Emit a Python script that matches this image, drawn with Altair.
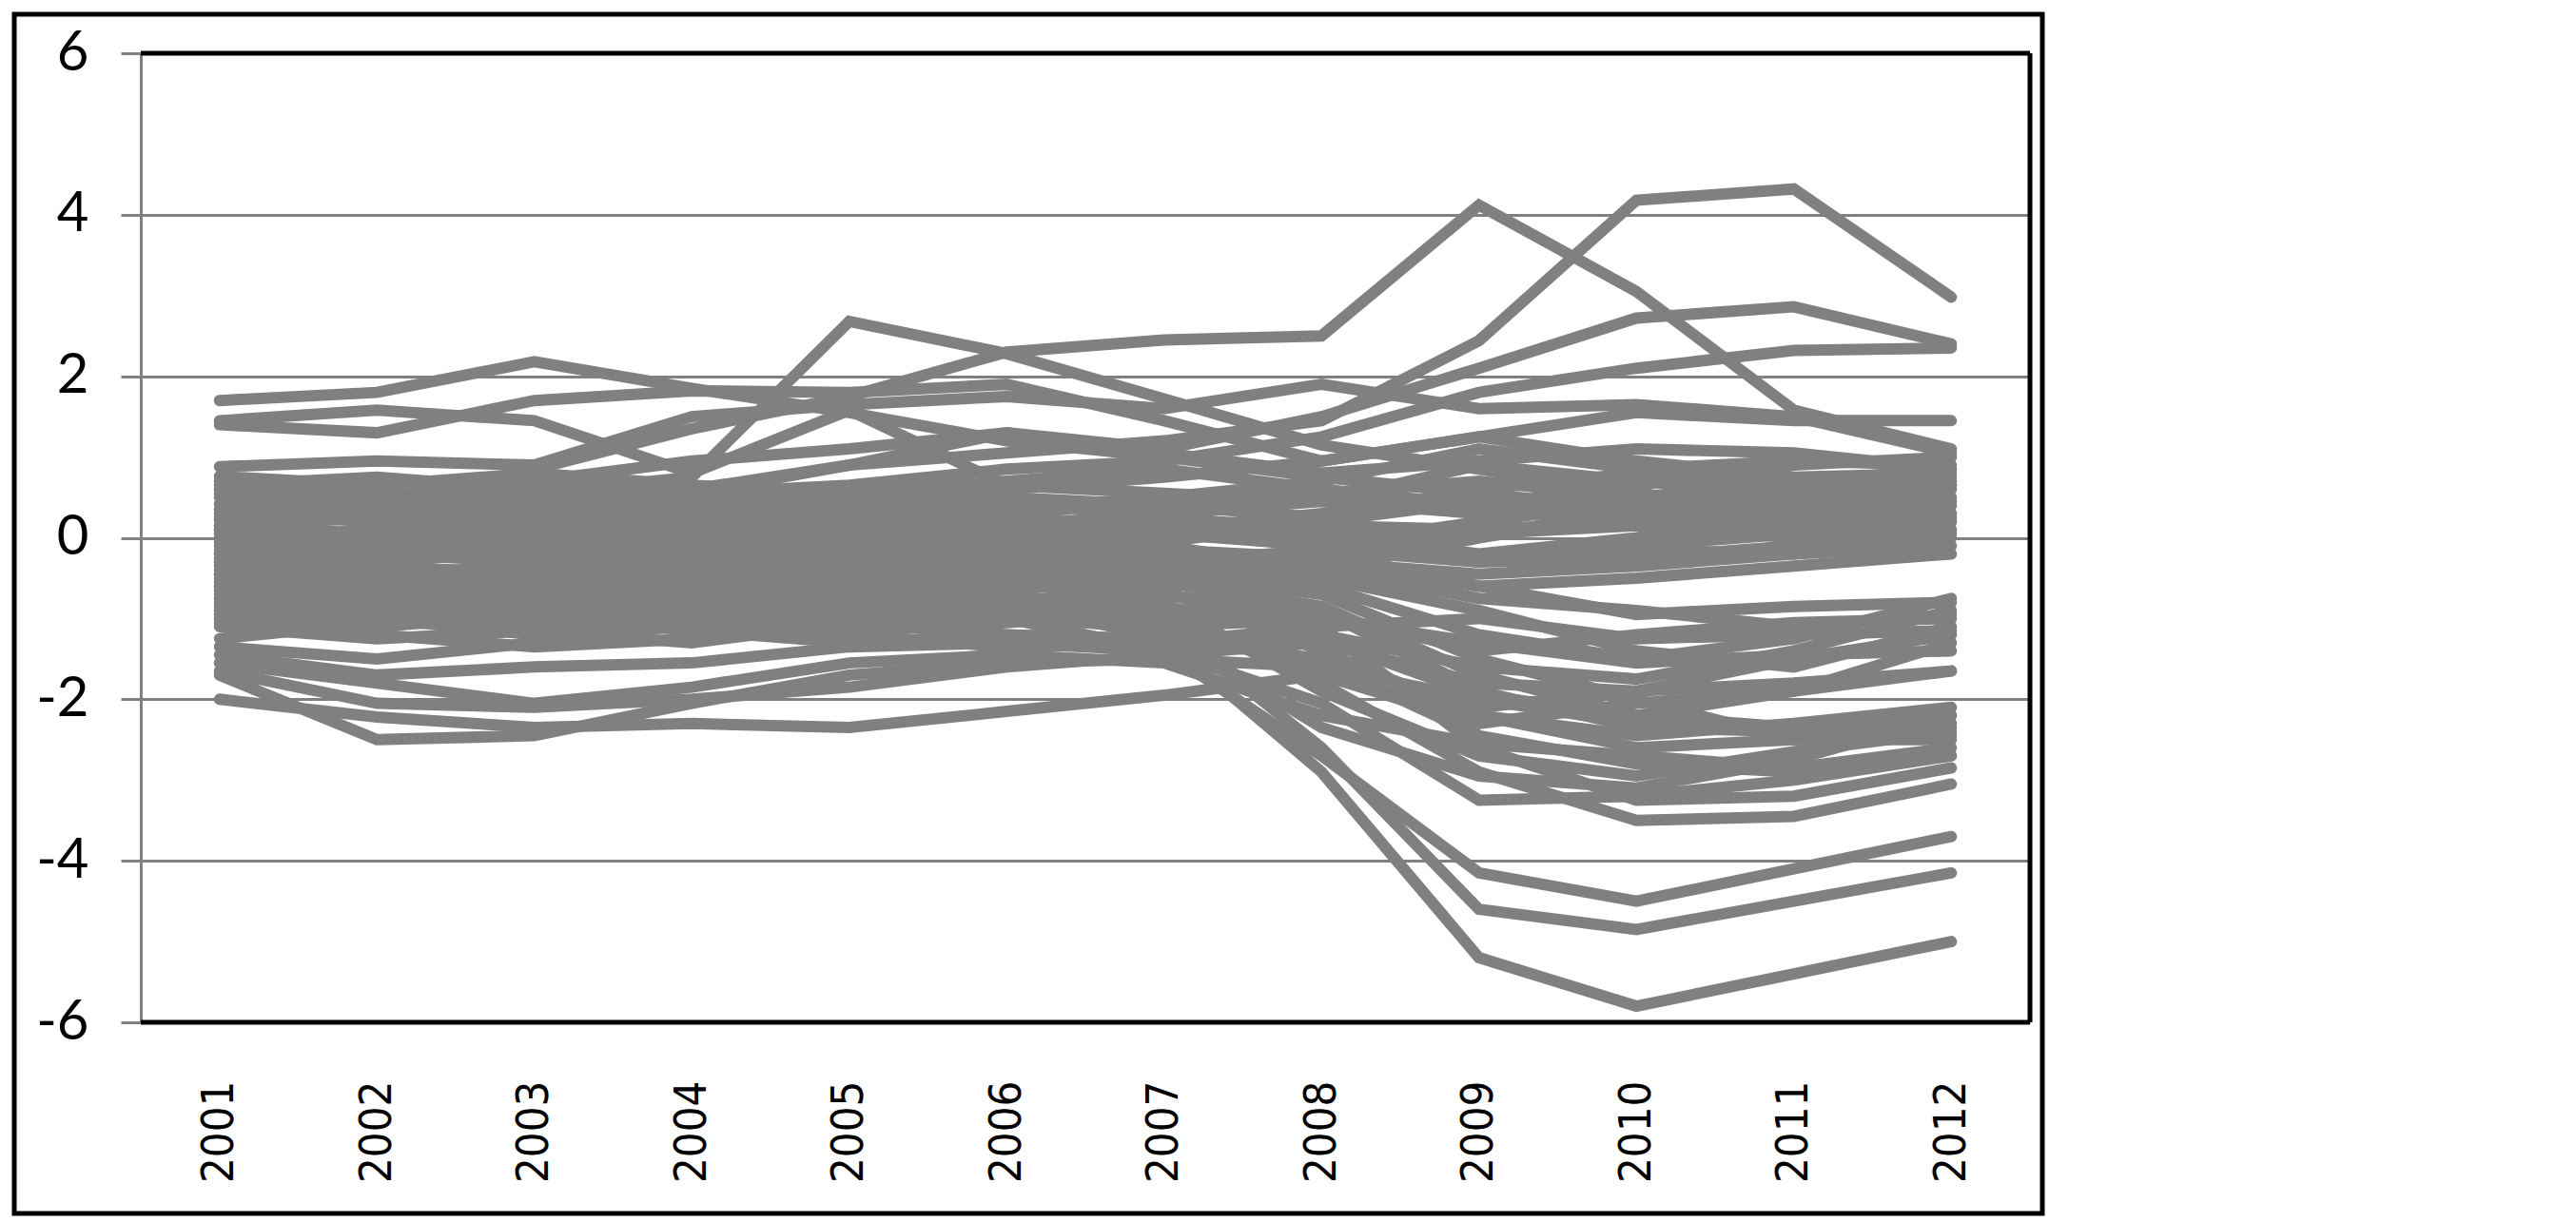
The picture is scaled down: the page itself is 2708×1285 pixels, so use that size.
import altair as alt
import pandas as pd

years = ["2001", "2002", "2003", "2004", "2005", "2006", "2007", "2008", "2009", "2010", "2011", "2012"]
y_ticks = [-6, -4, -2, 0, 2, 4, 6]

# upper outliers
a1 = [1.70, 1.80, 2.18, 1.85, 1.55, 1.20, 1.00, 0.75, 0.55, 0.30, 0.45, 0.30]
a2 = [1.45, 1.58, 1.45, 0.80, 1.58, 0.65, 0.55, 0.45, 0.90, 0.70, 0.55, 0.65]
a3 = [1.40, 1.30, 1.70, 1.82, 1.80, 1.90, 1.45, 0.95, 1.25, 1.55, 1.45, 1.45]
a4 = [0.35, 0.30, 0.55, 0.75, 2.68, 2.28, 1.72, 1.15, 0.85, 0.55, 0.35, 0.20]
a5 = [0.10, 0.40, 0.85, 1.35, 1.75, 2.30, 2.45, 2.50, 4.12, 3.05, 1.58, 1.10]
a6 = [-0.20, 0.15, 0.35, 0.60, 0.90, 1.05, 1.20, 1.45, 2.44, 4.18, 4.32, 2.98]
a7 = [0.60, 0.50, 0.70, 0.95, 1.10, 1.30, 1.10, 1.50, 2.10, 2.72, 2.86, 2.40]
a8 = [0.25, 0.40, 0.20, 0.55, 0.65, 0.85, 0.95, 1.25, 1.80, 2.10, 2.32, 2.35]
a9 = [0.88, 0.95, 0.90, 1.50, 1.65, 1.75, 1.60, 1.90, 1.60, 1.65, 1.50, 1.05]
# lower outliers
b1 = [-2.00, -2.22, -2.35, -2.30, -2.35, -2.15, -1.95, -1.70, -2.20, -2.60, -2.50, -2.45]
b2 = [-1.70, -2.50, -2.45, -2.05, -1.70, -1.55, -1.50, -1.60, -2.00, -2.30, -2.40, -2.30]
b3 = [-1.65, -2.05, -2.10, -2.00, -1.85, -1.60, -1.45, -1.30, -1.80, -1.90, -1.80, -1.65]
b4 = [-1.55, -1.80, -2.05, -1.85, -1.55, -1.45, -1.55, -2.20, -2.55, -2.70, -2.85, -2.60]
b5 = [-1.45, -1.70, -1.60, -1.55, -1.35, -1.30, -1.40, -2.05, -3.25, -3.20, -3.00, -2.70]
e_low = [-1.35, -1.50, -1.30, -1.05, -0.85, -0.80, -1.25, -2.90, -5.20, -5.80, -5.40, -5.00]
f_low = [-1.25, -1.05, -0.90, -0.70, -0.65, -0.75, -1.05, -2.60, -4.60, -4.85, -4.50, -4.15]
g_low = [-0.95, -0.85, -1.00, -0.85, -0.90, -1.00, -1.40, -2.70, -4.15, -4.50, -4.10, -3.70]
# falling group
c1 = [-0.50, -0.60, -0.75, -0.80, -0.70, -0.60, -0.65, -1.40, -2.20, -2.45, -2.30, -2.10]
c2 = [-0.30, -0.45, -0.35, -0.50, -0.40, -0.55, -0.70, -1.10, -2.60, -3.25, -3.20, -2.85]
c3 = [-0.80, -0.95, -1.10, -1.00, -1.15, -1.05, -0.90, -1.80, -2.90, -3.50, -3.45, -3.05]
c4 = [-1.05, -1.20, -1.35, -1.25, -1.10, -0.95, -1.15, -2.35, -2.95, -3.10, -2.75, -2.20]
c5 = [-0.10, -0.25, -0.20, -0.35, -0.30, -0.20, -0.40, -0.90, -1.90, -2.35, -2.40, -2.35]
c6 = [0.15, 0.05, -0.10, 0.00, -0.15, -0.30, -0.45, -0.70, -1.50, -2.00, -2.50, -2.50]
c7 = [-0.65, -0.80, -0.85, -0.70, -0.95, -0.85, -1.05, -1.55, -2.45, -2.80, -2.90, -2.70]
c8 = [-0.45, -0.30, -0.55, -0.65, -0.55, -0.45, -0.80, -1.90, -2.70, -2.95, -2.65, -2.40]
c9 = [-0.90, -1.10, -0.95, -1.15, -1.30, -1.20, -1.30, -1.25, -1.95, -2.20, -2.35, -2.20]
# middle group
d1 = [-0.20, -0.35, -0.45, -0.30, -0.45, -0.35, -0.25, -0.60, -1.20, -1.50, -1.25, -0.75]
d2 = [-0.60, -0.45, -0.60, -0.75, -0.60, -0.75, -0.85, -1.20, -1.60, -1.75, -1.40, -0.90]
d3 = [-0.75, -0.90, -0.80, -0.95, -1.05, -0.90, -0.70, -0.95, -1.40, -1.20, -1.05, -1.00]
d4 = [0.05, -0.10, 0.10, -0.05, 0.05, -0.10, -0.30, -0.50, -0.90, -1.40, -1.60, -1.10]
d5 = [-1.10, -1.25, -1.15, -1.30, -1.05, -1.20, -1.25, -1.50, -2.10, -1.90, -1.50, -1.20]
d6 = [-0.35, -0.20, -0.30, -0.40, -0.25, -0.45, -0.55, -0.85, -1.70, -2.20, -1.90, -1.30]
d7 = [-0.95, -0.75, -0.90, -1.05, -0.85, -1.00, -1.10, -1.00, -1.30, -1.55, -1.45, -1.40]
d8 = [-0.55, -0.70, -0.95, -0.90, -0.80, -0.70, -0.95, -1.70, -2.30, -2.05, -1.90, -1.65]
d9 = [0.30, 0.20, 0.05, 0.20, 0.10, 0.00, -0.15, -0.35, -0.60, -0.95, -0.85, -0.80]
d10 = [-0.85, -1.00, -1.20, -1.10, -1.20, -1.35, -1.30, -1.10, -1.00, -1.25, -1.20, -1.15]
d11 = [-0.15, -0.05, -0.20, -0.15, -0.35, -0.25, -0.10, -0.40, -0.75, -0.90, -1.10, -0.95]
# upper dense group
e1 = [0.76, 0.65, 0.80, 0.65, 0.55, 0.70, 0.85, 0.60, 0.40, 0.65, 0.90, 1.00]
e2 = [0.70, 0.55, 0.50, 0.60, 0.45, 0.35, 0.50, 0.70, 1.10, 0.85, 0.95, 0.90]
e3 = [0.65, 0.75, 0.60, 0.45, 0.35, 0.50, 0.40, 0.25, 0.60, 0.80, 0.70, 0.85]
e4 = [0.55, 0.40, 0.45, 0.30, 0.50, 0.60, 0.75, 0.95, 1.25, 0.95, 0.75, 0.80]
e5 = [0.50, 0.35, 0.25, 0.40, 0.25, 0.15, 0.30, 0.45, 0.30, 0.50, 0.70, 0.70]
e6 = [0.42, 0.50, 0.35, 0.20, 0.30, 0.45, 0.25, 0.10, 0.00, 0.30, 0.55, 0.65]
e7 = [0.35, 0.20, 0.30, 0.45, 0.35, 0.20, 0.05, -0.10, 0.20, 0.45, 0.40, 0.60]
e8 = [0.22, 0.30, 0.15, 0.05, 0.20, 0.30, 0.45, 0.55, 0.70, 0.50, 0.35, 0.50]
e9 = [0.10, 0.00, 0.20, 0.30, 0.10, -0.05, 0.10, 0.30, 0.55, 0.35, 0.20, 0.45]
e10 = [0.00, -0.15, -0.05, 0.10, 0.20, 0.15, 0.00, 0.15, 0.10, 0.20, 0.30, 0.40]
e11 = [-0.05, 0.10, 0.00, -0.15, -0.05, 0.10, 0.20, 0.05, -0.20, 0.00, 0.25, 0.30]
e12 = [-0.25, -0.10, -0.25, -0.10, 0.05, -0.15, -0.05, 0.20, 0.45, 0.25, 0.10, 0.25]
e13 = [-0.40, -0.55, -0.40, -0.25, -0.20, -0.05, 0.10, -0.05, -0.30, -0.10, 0.05, 0.20]
e14 = [-0.45, -0.30, -0.15, -0.20, -0.10, 0.05, -0.15, -0.25, 0.05, 0.15, 0.00, 0.10]
e15 = [-0.70, -0.55, -0.65, -0.50, -0.35, -0.40, -0.30, -0.15, -0.30, -0.25, -0.10, 0.05]
e16 = [-1.00, -0.85, -0.70, -0.60, -0.50, -0.60, -0.45, -0.30, -0.45, -0.35, -0.20, 0.00]
e17 = [0.60, 0.45, 0.65, 0.55, 0.40, 0.25, 0.15, 0.00, -0.25, -0.15, -0.20, -0.10]
e18 = [-0.60, -0.75, -0.55, -0.40, -0.55, -0.50, -0.35, -0.20, -0.60, -0.50, -0.35, -0.20]
e19 = [0.15, 0.25, 0.40, 0.55, 0.90, 1.30, 1.05, 0.80, 0.95, 1.10, 1.05, 0.85]
e20 = [-0.30, -0.40, -0.60, -0.55, -0.70, -0.80, -0.60, -0.40, 0.00, 0.40, 0.65, 0.75]

all_series = [a1, a2, a3, a4, a5, a6, a7, a8, a9, b1, b2, b3, b4, b5, e_low, f_low, g_low,
              c1, c2, c3, c4, c5, c6, c7, c8, c9, d1, d2, d3, d4, d5, d6, d7, d8, d9, d10, d11,
              e1, e2, e3, e4, e5, e6, e7, e8, e9, e10, e11, e12, e13, e14, e15, e16, e17, e18, e19, e20]

rows = []
for i, s in enumerate(all_series):
    for yr, v in zip(years, s):
        rows.append({"series": f"s{i:02d}", "year": yr, "value": v})
df = pd.DataFrame(rows)

W, H = 1986, 1019
GRAY = "#808080"

lines = alt.Chart(df).mark_line(color=GRAY, strokeWidth=12, strokeCap="round", strokeJoin="miter").encode(
    x=alt.X("year:O", sort=years, scale=alt.Scale(type="point", padding=0.5),
            axis=alt.Axis(title=None, labelAngle=270, labelFont="DejaVu Sans Condensed, DejaVu Sans",
                          labelFontSize=47, labelColor="black", labelPadding=61,
                          ticks=False, domain=False, grid=False, labelOverlap=False)),
    y=alt.Y("value:Q", scale=alt.Scale(domain=[-6, 6], nice=False, zero=False),
            axis=alt.Axis(title=None, values=y_ticks, gridColor=GRAY, gridWidth=3, gridOpacity=1,
                          domainColor=GRAY, domainWidth=3, tickColor=GRAY, tickWidth=3,
                          tickSize=21, labelFont="Lato", labelFontSize=58, labelColor="black",
                          labelPadding=34, labelOverlap=False,
                          labelExpr="'' + datum.value")),
    detail="series:N",
)

deco = pd.DataFrame({"k": [0]})
top_rule = alt.Chart(deco).mark_rule(color="black", strokeWidth=5).encode(
    x=alt.value(0), x2=alt.value(W), y=alt.value(0))
bottom_rule = alt.Chart(deco).mark_rule(color="black", strokeWidth=5).encode(
    x=alt.value(0), x2=alt.value(W), y=alt.value(H))
right_rule = alt.Chart(deco).mark_rule(color="black", strokeWidth=5).encode(
    x=alt.value(W), y=alt.value(0), y2=alt.value(H))
outer = alt.Chart(deco).mark_rect(fillOpacity=0, stroke="black", strokeWidth=5).encode(
    x=alt.value(-133), x2=alt.value(W + 13), y=alt.value(-41), y2=alt.value(H + 201))

chart = alt.layer(lines, top_rule, bottom_rule, right_rule, outer).properties(
    width=W, height=H, padding={"left": 4, "top": 4, "right": 4, "bottom": 4},
    background="white",
).configure_view(strokeWidth=0)

chart.save("out.html", embed_options={"renderer": "svg", "actions": False})
